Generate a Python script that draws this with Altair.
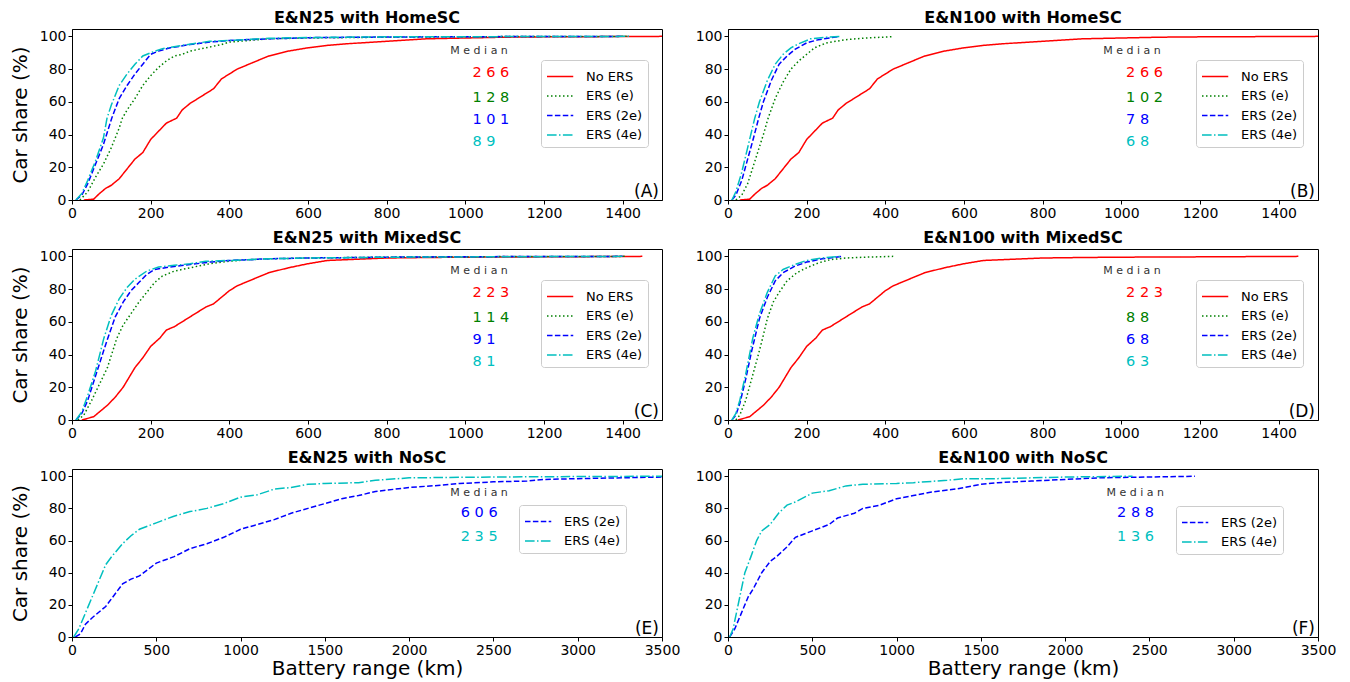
import altair as alt
import pandas as pd

SERIES = ["No ERS", "ERS (e)", "ERS (2e)", "ERS (4e)"]
COLORS = ["#ff0000", "#008000", "#0000ff", "#00bfbf"]
DASHES = [[1, 0], [1.5, 2.5], [5.5, 2.4], [9.6, 2.4, 1.5, 2.4]]

XTICKS_SHORT = [0, 200, 400, 600, 800, 1000, 1200, 1400]
XTICKS_LONG = [0, 500, 1000, 1500, 2000, 2500, 3000, 3500]
YTICKS = [0, 20, 40, 60, 80, 100]

# --- Home smart charging, no ERS (same in A and B)
HOME_NO_X = [30, 55, 70, 85, 100, 120, 140, 160, 180, 200, 220, 240, 266, 280, 300, 320, 340, 360, 380, 400, 420, 440, 460, 480, 500, 550, 600, 650, 700, 800, 900, 1000, 1100, 1200, 1500]
HOME_NO_Y = [0, 0.5, 4, 7, 9, 13, 19, 25, 29, 37, 42, 47, 50, 55, 59, 62, 65, 68, 74, 77, 80, 82, 84, 86, 88, 91, 93, 94.5, 95.5, 97, 98.5, 99, 99.5, 99.7, 100]
# --- Panel A (E&N25 HomeSC)
A_E_X = [20, 40, 60, 80, 100, 120, 128, 140, 160, 180, 200, 220, 240, 260, 280, 300, 340, 380, 400, 450, 500, 600, 800, 1000, 1410]
A_E_Y = [0, 5, 14, 22, 32, 44, 50, 55, 62, 70, 76, 81, 85, 88, 89, 91, 93, 95, 96.5, 97.5, 98.5, 99, 99.5, 99.8, 100]
A_2E_X = [10, 25, 40, 60, 80, 101, 120, 140, 160, 180, 200, 220, 250, 300, 350, 400, 500, 600, 800, 1000, 1400]
A_2E_Y = [0, 3, 10, 22, 34, 50, 62, 70, 77, 83, 89, 91, 93, 95, 96.5, 97.5, 98.5, 99.2, 99.6, 99.8, 100]
A_4E_X = [10, 25, 40, 60, 80, 89, 100, 120, 140, 160, 180, 200, 230, 280, 350, 400, 500, 600, 800, 1420]
A_4E_Y = [0, 4, 12, 24, 38, 50, 58, 70, 77, 83, 88, 90, 92.5, 94.5, 97, 97.5, 98.8, 99.3, 99.7, 100]
# --- Panel B (E&N100 HomeSC)
B_E_X = [20, 35, 50, 70, 90, 102, 120, 140, 160, 180, 200, 220, 250, 300, 350, 420]
B_E_Y = [0, 3, 10, 25, 40, 50, 62, 72, 80, 85, 89, 93, 96, 98, 99, 99.8]
B_2E_X = [10, 20, 35, 50, 65, 78, 90, 110, 130, 150, 170, 200, 230, 280]
B_2E_Y = [0, 3, 12, 25, 38, 50, 60, 73, 83, 88, 92, 96, 98, 99.8]
B_4E_X = [10, 20, 35, 50, 68, 80, 100, 120, 140, 160, 180, 210, 250, 285]
B_4E_Y = [0, 5, 17, 32, 50, 60, 73, 83, 89, 93, 95.5, 98.5, 99.5, 100]
# --- Mixed smart charging, no ERS (same in C and D)
MIX_NO_X = [25, 40, 55, 70, 90, 110, 130, 150, 160, 180, 200, 223, 240, 260, 280, 300, 320, 340, 360, 380, 400, 420, 440, 460, 480, 500, 550, 600, 650, 700, 800, 900, 1000, 1200, 1450]
MIX_NO_Y = [0, 1, 2, 5, 9, 14, 20, 28, 32, 38, 45, 50, 55, 57, 60, 63, 66, 69, 71, 75, 79, 82, 84, 86, 88, 90, 93, 95.5, 97.5, 98, 99, 99.3, 99.5, 99.7, 100]
# --- Panel C (E&N25 MixedSC)
C_E_X = [15, 30, 50, 70, 90, 114, 130, 150, 170, 190, 210, 230, 260, 300, 350, 400, 450, 500, 600, 800, 1000, 1410]
C_E_Y = [0, 3, 12, 22, 32, 50, 58, 65, 72, 78, 84, 88, 91, 93, 95.5, 97, 98, 98.5, 99, 99.5, 99.8, 100]
C_2E_X = [10, 25, 40, 60, 80, 91, 110, 130, 150, 170, 190, 210, 250, 300, 350, 400, 500, 600, 800, 1000, 1400]
C_2E_Y = [0, 4, 12, 27, 42, 50, 63, 72, 79, 84, 89, 92, 93.5, 95, 96.5, 97.5, 98.5, 99, 99.5, 99.8, 100]
C_4E_X = [10, 25, 40, 60, 81, 100, 120, 140, 160, 190, 220, 260, 300, 340, 400, 500, 600, 800, 1400]
C_4E_Y = [0, 5, 15, 30, 50, 64, 74, 81, 86, 91, 93.5, 94.5, 95.5, 97, 97.5, 98.5, 99, 99.5, 100]
# --- Panel D (E&N100 MixedSC)
D_E_X = [20, 30, 45, 60, 75, 88, 100, 115, 130, 150, 175, 200, 230, 260, 300, 350, 420]
D_E_Y = [0, 3, 12, 25, 38, 50, 62, 72, 78, 85, 90, 93, 96, 98, 99, 99.5, 100]
D_2E_X = [10, 20, 30, 45, 60, 68, 80, 100, 120, 140, 170, 200, 240, 290]
D_2E_Y = [0, 3, 10, 25, 42, 50, 62, 75, 85, 90, 94, 96.5, 98.5, 100]
D_4E_X = [10, 20, 30, 45, 63, 80, 100, 120, 140, 170, 200, 240, 285]
D_4E_Y = [0, 4, 12, 28, 50, 65, 78, 88, 92, 95, 97.5, 99, 100]
# --- Panel E (E&N25 NoSC)
E_2E_X = [20, 50, 80, 120, 200, 250, 300, 350, 400, 450, 500, 606, 700, 800, 900, 1000, 1100, 1200, 1300, 1400, 1500, 1600, 1700, 1800, 2000, 2200, 2300, 2500, 2700, 2800, 3000, 3500]
E_2E_Y = [0, 2, 8, 12, 19, 26, 33, 36, 38, 42, 46, 50, 55, 58, 62, 67, 70, 73, 77, 80, 83, 86, 88, 90.5, 93, 94.5, 95.5, 96.5, 97, 98, 98.5, 99.5]
E_4E_X = [10, 40, 80, 120, 160, 200, 235, 300, 350, 400, 500, 600, 700, 800, 900, 1000, 1100, 1200, 1300, 1400, 1500, 1700, 1800, 2000, 2500, 3000, 3500]
E_4E_Y = [0, 5, 15, 25, 35, 45, 50, 58, 63, 67, 71, 75, 78, 80, 83, 87, 88.5, 92, 93, 95, 95.5, 96, 97.5, 99, 99.5, 99.8, 100]
# --- Panel F (E&N100 NoSC)
F_2E_X = [10, 40, 80, 120, 150, 200, 250, 288, 350, 400, 500, 600, 650, 750, 800, 900, 1000, 1100, 1200, 1350, 1500, 1600, 1800, 2000, 2200, 2500, 2770]
F_2E_Y = [0, 5, 15, 25, 30, 40, 47, 50, 56, 62, 66, 70, 74, 77, 80, 82, 86, 88, 90, 92, 95, 96, 97, 98, 99, 99.5, 100]
F_4E_X = [10, 30, 60, 100, 136, 170, 200, 250, 300, 350, 400, 500, 600, 700, 800, 1000, 1100, 1300, 1400, 1600, 1800, 2000, 2400]
F_4E_Y = [0, 5, 20, 40, 50, 60, 66, 70, 77, 82, 84, 89.5, 91, 94, 95, 95.5, 96, 97.5, 98.5, 98.5, 99, 99.5, 100]

TITLES = ["E&N25 with HomeSC", "E&N100 with HomeSC", "E&N25 with MixedSC",
          "E&N100 with MixedSC", "E&N25 with NoSC", "E&N100 with NoSC"]
TAGS = ["(A)", "(B)", "(C)", "(D)", "(E)", "(F)"]
MEDIANS_A = [266, 128, 101, 89]
MEDIANS_B = [266, 102, 78, 68]
MEDIANS_C = [223, 114, 91, 81]
MEDIANS_D = [223, 88, 68, 63]
MEDIANS_E = [606, 235]
MEDIANS_F = [288, 136]
# annotation anchor positions (data units)
MED_Y4 = [77.5, 62.5, 48.8, 35.2]
MED_Y2 = [77.3, 62.3]
MEDLABEL_Y4 = 91.2
MEDLABEL_Y2 = 89.3

FONT = "DejaVu Sans"


def panel(idx, series, data, medians, xmax, xticks, med_label_x, med_num_x,
          med_label_y, med_ys, legend_xy, ytitle, xtitle, h):
    rows = []
    for s, (xs, ys) in zip(series, data):
        for i, (xv, yv) in enumerate(zip(xs, ys)):
            rows.append({"series": s, "x": xv, "y": yv, "i": i})
    df = pd.DataFrame(rows)
    cols = [COLORS[SERIES.index(s)] for s in series]
    dashes = [DASHES[SERIES.index(s)] for s in series]

    xs = alt.Scale(domain=[0, xmax], nice=False, zero=False)
    ys = alt.Scale(domain=[0, 104.5], nice=False, zero=False)
    xaxis = alt.Axis(values=xticks, tickCount=len(xticks) + 2, title=xtitle if xtitle else None,
                     labelFlush=False, labelOverlap=False, format="d")
    yaxis = alt.Axis(values=YTICKS, tickCount=len(YTICKS) + 2, title=ytitle if ytitle else None,
                     labelFlush=False, labelOverlap=False, format="d")
    leg = alt.Legend(title=None, orient="none", legendX=legend_xy[0], legendY=legend_xy[1],
                     symbolType="M-1,0L1.5,0", symbolSize=441, symbolStrokeWidth=1.5,
                     labelFontSize=13, labelFont=FONT, labelColor="black",
                     strokeColor="#cccccc", fillColor="white", padding=5,
                     cornerRadius=3, rowPadding=0.5, labelOffset=17)

    lines = alt.Chart(df).mark_line(strokeWidth=1.5, clip=True).encode(
        x=alt.X("x:Q", scale=xs, axis=xaxis),
        y=alt.Y("y:Q", scale=ys, axis=yaxis),
        color=alt.Color("series:N", scale=alt.Scale(domain=series, range=cols), legend=leg),
        strokeDash=alt.StrokeDash("series:N", scale=alt.Scale(domain=series, range=dashes), legend=leg),
        order=alt.Order("i:Q"),
    )

    ann_df = pd.DataFrame({
        "x": [med_num_x] * len(medians),
        "y": med_ys,
        "t": [" ".join(str(m)) for m in medians],
        "c": cols,
    })
    nums = alt.Chart(ann_df).mark_text(align="left", baseline="middle", fontSize=14.5,
                                       font=FONT).encode(
        x="x:Q", y="y:Q", text="t:N", color=alt.Color("c:N", scale=None))
    lab_df = pd.DataFrame({"x": [med_label_x], "y": [med_label_y], "t": ["M e d i a n"]})
    lab = alt.Chart(lab_df).mark_text(align="center", baseline="middle", fontSize=11,
                                      font=FONT, color="#333333").encode(
        x="x:Q", y="y:Q", text="t:N")
    tag_df = pd.DataFrame({"x": [xmax], "y": [0], "t": [TAGS[idx]]})
    tag = alt.Chart(tag_df).mark_text(align="right", baseline="bottom", fontSize=17,
                                      font=FONT, color="black", dx=-3, dy=1).encode(
        x="x:Q", y="y:Q", text="t:N")

    return alt.layer(lines, nums, lab, tag).properties(
        width=590, height=h,
        title=alt.TitleParams(TITLES[idx], fontSize=16, font=FONT, fontWeight="bold",
                              color="black", offset=3, anchor="middle"),
    )


S4 = SERIES
S2 = ["ERS (2e)", "ERS (4e)"]

pA = panel(0, S4, [(HOME_NO_X, HOME_NO_Y), (A_E_X, A_E_Y), (A_2E_X, A_2E_Y), (A_4E_X, A_4E_Y)],
           MEDIANS_A, 1500, XTICKS_SHORT, 1035, 1018, MEDLABEL_Y4, MED_Y4, (469, 31),
           "Car share (%)", None, 171)
pB = panel(1, S4, [(HOME_NO_X, HOME_NO_Y), (B_E_X, B_E_Y), (B_2E_X, B_2E_Y), (B_4E_X, B_4E_Y)],
           MEDIANS_B, 1500, XTICKS_SHORT, 1027, 1012, MEDLABEL_Y4, MED_Y4, (468, 31),
           None, None, 171)
pC = panel(2, S4, [(MIX_NO_X, MIX_NO_Y), (C_E_X, C_E_Y), (C_2E_X, C_2E_Y), (C_4E_X, C_4E_Y)],
           MEDIANS_C, 1500, XTICKS_SHORT, 1035, 1018, MEDLABEL_Y4, MED_Y4, (469, 31),
           "Car share (%)", None, 171)
pD = panel(3, S4, [(MIX_NO_X, MIX_NO_Y), (D_E_X, D_E_Y), (D_2E_X, D_2E_Y), (D_4E_X, D_4E_Y)],
           MEDIANS_D, 1500, XTICKS_SHORT, 1027, 1012, MEDLABEL_Y4, MED_Y4, (468, 31),
           None, None, 171)
pE = panel(4, S2, [(E_2E_X, E_2E_Y), (E_4E_X, E_4E_Y)],
           MEDIANS_E, 3500, XTICKS_LONG, 2415, 2306, MEDLABEL_Y2, MED_Y2, (447, 36),
           "Car share (%)", "Battery range (km)", 168)
pF = panel(5, S2, [(F_2E_X, F_2E_Y), (F_4E_X, F_4E_Y)],
           MEDIANS_F, 3500, XTICKS_LONG, 2416, 2308, MEDLABEL_Y2, MED_Y2, (448, 37),
           None, "Battery range (km)", 168)


def row(a, b):
    return alt.hconcat(a, b, spacing=66, bounds="flush").resolve_scale(
        color="independent", strokeDash="independent", x="independent", y="independent")


chart = alt.vconcat(row(pA, pB), row(pC, pD), row(pE, pF), spacing=8).resolve_scale(
    color="independent", strokeDash="independent", x="independent", y="independent"
).properties(
    padding={"left": 1, "top": 1, "right": 5, "bottom": 0}
).configure(font=FONT).configure_axis(
    labelFont=FONT, labelFontSize=14, labelColor="black", tickColor="black",
    domainColor="black", tickSize=4, labelPadding=2, grid=False,
    titleFont=FONT, titleFontSize=20, titleFontWeight="normal", titleColor="black",
).configure_axisY(titlePadding=9).configure_axisX(titlePadding=1).configure_view(
    stroke="black", strokeWidth=1
)

chart.save("out.html", embed_options={"renderer": "svg", "actions": False})
